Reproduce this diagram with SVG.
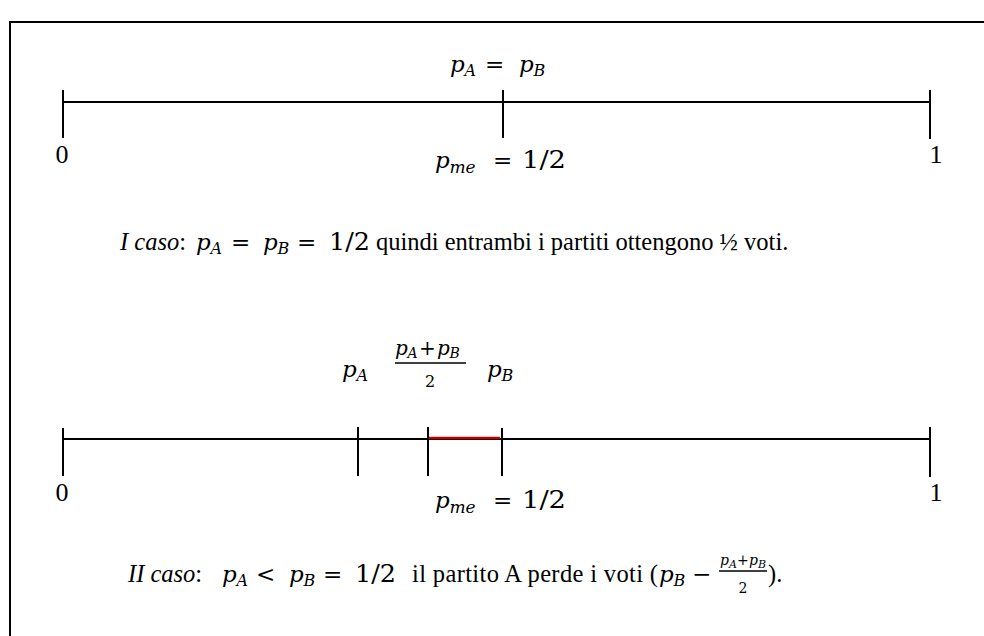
<svg xmlns="http://www.w3.org/2000/svg" width="984" height="636" viewBox="0 0 984 636">
<style>
.t{font-family:'Liberation Serif','Times New Roman',serif;font-size:24.5px;fill:#000}
.m{font-family:'DejaVu Serif',serif;font-size:23px;fill:#000}
.n{font-family:'DejaVu Serif',serif;font-size:24px;fill:#000}
.i{font-style:italic}
.s{font-family:'DejaVu Serif',serif;font-size:16px;font-style:italic}
.ax{stroke:#000;stroke-width:1.8;fill:none}
.tk{stroke:#000;stroke-width:2;fill:none}
.num{font-family:'Liberation Serif','Times New Roman',serif;font-size:26px;fill:#000}
</style>
<rect x="10" y="22" width="1000" height="640" fill="#fff" stroke="#000" stroke-width="2"/>

<g id="axis1">
<line class="ax" x1="63" y1="102" x2="930" y2="102"/>
<line class="tk" x1="63" y1="90" x2="63" y2="138"/>
<line class="tk" x1="503" y1="90" x2="503" y2="138" stroke-width="2.6"/>
<line class="tk" x1="930" y1="90" x2="930" y2="139"/>
</g>
<g id="labels1">
<text class="num" x="62" y="163" text-anchor="middle">0</text>
<text class="num" x="936" y="163" text-anchor="middle">1</text>
<text class="m"><tspan class="i" x="450" y="72">p</tspan><tspan class="s" x="464.5" y="76">A</tspan><tspan x="485" y="72">=</tspan><tspan class="i" x="519" y="72">p</tspan><tspan class="s" x="533.5" y="76">B</tspan></text>
<text class="m"><tspan class="i" x="435" y="168">p</tspan><tspan class="s" x="449.5" y="173" style="font-size:17px">me</tspan><tspan x="493" y="168">=</tspan></text>
<text class="n" x="522" y="168" textLength="44" lengthAdjust="spacingAndGlyphs">1/2</text>
</g>
<g id="caption1">
<text class="t" x="120" y="250"><tspan class="i">I caso</tspan>:</text>
<text class="m"><tspan class="i" x="196" y="250">p</tspan><tspan class="s" x="210.5" y="254">A</tspan><tspan x="231" y="250">=</tspan><tspan class="i" x="263" y="250">p</tspan><tspan class="s" x="277.5" y="254">B</tspan><tspan x="297" y="250">=</tspan></text>
<text class="n" x="329" y="250" textLength="41" lengthAdjust="spacingAndGlyphs">1/2</text>
<text class="t" x="376" y="250">quindi entrambi i partiti ottengono ½ voti.</text>
</g>

<g id="axis2">
<line class="ax" x1="63" y1="439" x2="930" y2="439"/>
<line x1="428" y1="438" x2="500" y2="438" stroke="#c00000" stroke-width="2.6"/>
<line class="tk" x1="63" y1="428" x2="63" y2="476"/>
<line class="tk" x1="358" y1="427" x2="358" y2="476"/>
<line class="tk" x1="428" y1="427" x2="428" y2="476"/>
<line class="tk" x1="502" y1="428" x2="502" y2="476" stroke-width="2.6"/>
<line class="tk" x1="930" y1="427" x2="930" y2="477"/>
</g>
<g id="labels2">
<text class="num" x="62" y="501" text-anchor="middle">0</text>
<text class="num" x="936" y="501" text-anchor="middle">1</text>
<text class="m"><tspan class="i" x="342" y="377">p</tspan><tspan class="s" x="356.5" y="381">A</tspan></text>
<text class="m" style="font-size:20px"><tspan class="i" x="395" y="355">p</tspan><tspan class="s" style="font-size:14px" x="407.5" y="358">A</tspan><tspan x="419" y="355">+</tspan><tspan class="i" x="437" y="355">p</tspan><tspan class="s" style="font-size:14px" x="449.5" y="358">B</tspan></text>
<line x1="395" y1="363" x2="466" y2="363" stroke="#000" stroke-width="1.5"/>
<text class="n" style="font-size:16px" x="430" y="387" text-anchor="middle">2</text>
<text class="m"><tspan class="i" x="487" y="377">p</tspan><tspan class="s" x="501.5" y="381">B</tspan></text>
<text class="m"><tspan class="i" x="435" y="508">p</tspan><tspan class="s" x="449.5" y="513" style="font-size:17px">me</tspan><tspan x="493" y="508">=</tspan></text>
<text class="n" x="522" y="508" textLength="44" lengthAdjust="spacingAndGlyphs">1/2</text>
</g>
<g id="caption2">
<text class="t" x="128" y="582"><tspan class="i">II caso</tspan>:</text>
<text class="m"><tspan class="i" x="222" y="582">p</tspan><tspan class="s" x="236.5" y="586">A</tspan><tspan x="256" y="582">&lt;</tspan><tspan class="i" x="289" y="582">p</tspan><tspan class="s" x="303.5" y="586">B</tspan><tspan x="323" y="582">=</tspan></text>
<text class="n" x="355" y="582" textLength="41" lengthAdjust="spacingAndGlyphs">1/2</text>
<text class="t" x="412" y="582" textLength="246" lengthAdjust="spacing">il partito A perde i voti (</text>
<text class="m"><tspan class="i" x="659" y="582">p</tspan><tspan class="s" x="673.5" y="586">B</tspan><tspan x="692" y="582">−</tspan></text>
<text class="m" style="font-size:14px"><tspan class="i" x="720" y="565">p</tspan><tspan class="s" style="font-size:11px" x="729" y="568">A</tspan><tspan x="737" y="565">+</tspan><tspan class="i" x="749" y="565">p</tspan><tspan class="s" style="font-size:11px" x="758" y="568">B</tspan></text>
<line x1="719" y1="571" x2="767" y2="571" stroke="#000" stroke-width="1.3"/>
<text class="n" style="font-size:14px" x="743" y="593" text-anchor="middle">2</text>
<text class="t" x="768" y="582">).</text>
</g>
</svg>
